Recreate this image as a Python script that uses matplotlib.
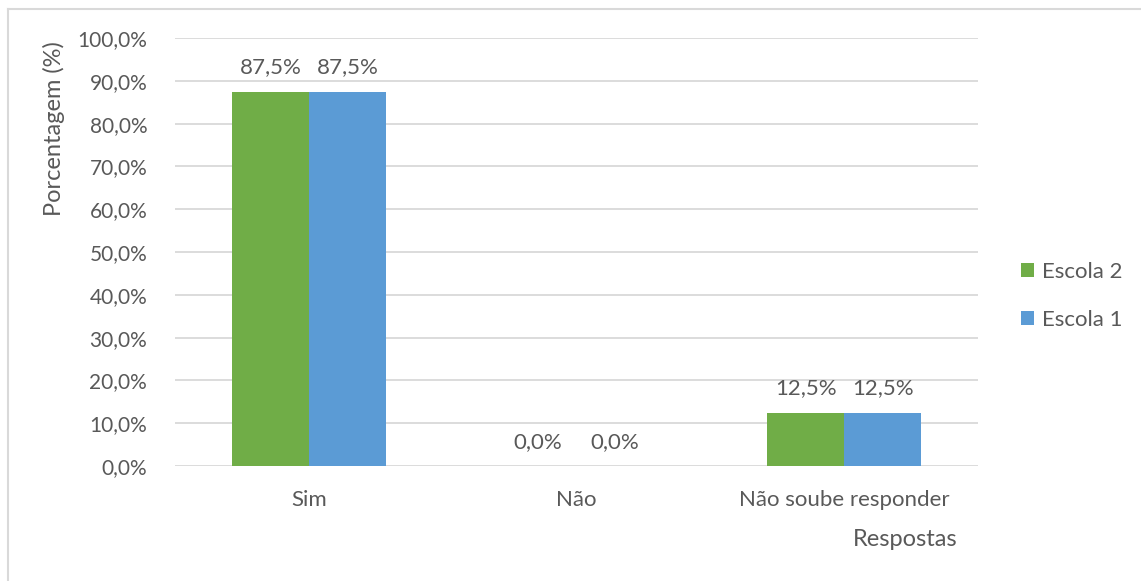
import numpy as np
import matplotlib.pyplot as plt
from matplotlib.lines import Line2D

categorias = ["Sim", "Não", "Não soube responder"]
escola_2 = [87.5, 0.0, 12.5]
escola_1 = [87.5, 0.0, 12.5]
ticks_y = [0, 10, 20, 30, 40, 50, 60, 70, 80, 90, 100]

verde = "#70AD47"
azul = "#5B9BD5"
cinza_texto = "#595959"
cinza_grade = "#D9D9D9"

plt.rcParams['font.family'] = ['Lato', 'DejaVu Sans']

fig = plt.figure(figsize=(11.41, 5.81), dpi=100)
ax = fig.add_axes([175 / 1141, 1 - 466 / 581, 803 / 1141, 428 / 581])

x = np.arange(len(categorias))
w = 0.2877
b2 = ax.bar(x - w / 2, escola_2, w, color=verde, label="Escola 2", zorder=3)
b1 = ax.bar(x + w / 2, escola_1, w, color=azul, label="Escola 1", zorder=3)

def fmt(v):
    return f"{v:.1f}%".replace(".", ",")

for barras in (b2, b1):
    for r in barras:
        ax.annotate(fmt(r.get_height()), (r.get_x() + r.get_width() / 2, r.get_height()),
                    xytext=(0, 24), textcoords="offset pixels", ha="center", va="center",
                    fontsize=16, color=cinza_texto)

ax.set_xlim(-0.5, 2.5)
ax.set_ylim(0, 100)
ax.set_yticks(ticks_y)
ax.set_yticklabels([fmt(t) for t in ticks_y])
ax.set_xticks(x)
ax.set_xticklabels(categorias)
ax.tick_params(axis="both", length=0, labelcolor=cinza_texto)
ax.tick_params(axis="y", pad=20, labelsize=15)
ax.tick_params(axis="x", pad=17, labelsize=16)
ax.grid(axis="y", color=cinza_grade, linewidth=1.3, zorder=0)
for s in ax.spines.values():
    s.set_visible(False)

fig.text(54 / 1141, 1 - 129 / 581, "Porcentagem (%)", rotation=90, ha="center", va="center",
         fontsize=17, color=cinza_texto)
fig.text(905 / 1141, 1 - 539 / 581, "Respostas", ha="center", va="center",
         fontsize=17, color=cinza_texto)

ax.legend(loc="center left", bbox_to_anchor=(1001 / 1141, 1 - 296 / 581),
          bbox_transform=fig.transFigure, frameon=False, fontsize=16,
          labelcolor=cinza_texto, handlelength=0.6, handleheight=0.6,
          handletextpad=0.35, labelspacing=1.25)

# moldura do gráfico (topo e lado esquerdo)
fig.add_artist(Line2D([8 / 1141, 1], [1 - 9 / 581, 1 - 9 / 581], color="#D9D9D9", linewidth=1.5))
fig.add_artist(Line2D([8 / 1141, 8 / 1141], [0, 1 - 9 / 581], color="#D9D9D9", linewidth=1.5))

fig.savefig("out.png", dpi=100, facecolor="white")
